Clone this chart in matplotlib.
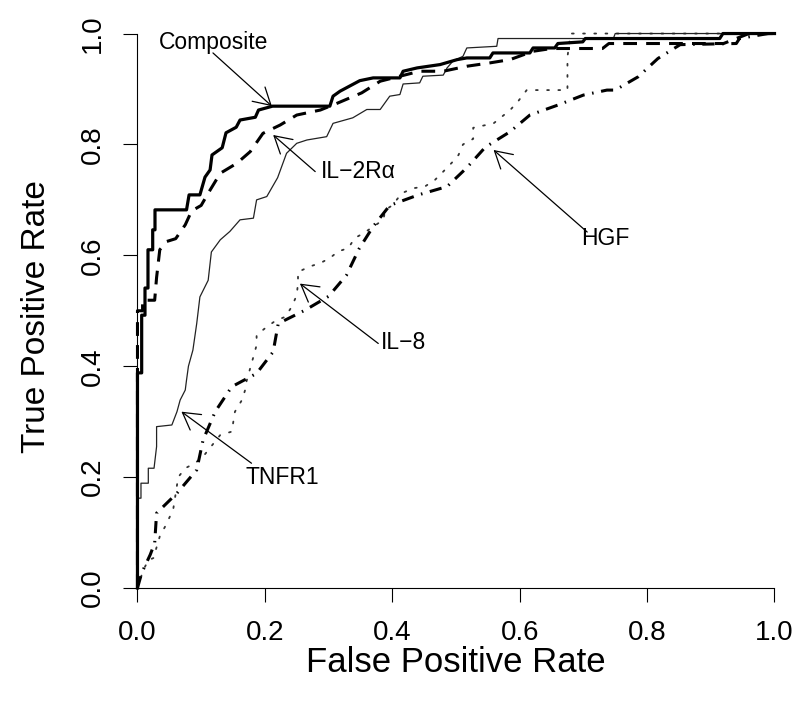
import matplotlib.pyplot as plt

plt.rcParams['font.family'] = ['Liberation Sans', 'DejaVu Sans']

ticks = [0.0, 0.2, 0.4, 0.6, 0.8, 1.0]
tick_labels = ['0.0', '0.2', '0.4', '0.6', '0.8', '1.0']

# (false positive rate, true positive rate)
composite = [(0, 0), (0, 0.388), (0.0066, 0.388), (0.0066, 0.492), (0.0118, 0.492), (0.0118, 0.541),
             (0.0165, 0.541), (0.0165, 0.61), (0.0239, 0.61), (0.0239, 0.646), (0.0275, 0.646),
             (0.0275, 0.682), (0.077, 0.682), (0.081, 0.709), (0.098, 0.709), (0.106, 0.741),
             (0.114, 0.754), (0.117, 0.781), (0.133, 0.794), (0.139, 0.821), (0.155, 0.831),
             (0.161, 0.844), (0.185, 0.849), (0.19, 0.862), (0.212, 0.869), (0.302, 0.869),
             (0.307, 0.887), (0.318, 0.896), (0.349, 0.915), (0.37, 0.92), (0.412, 0.92),
             (0.417, 0.932), (0.439, 0.938), (0.475, 0.944), (0.502, 0.953), (0.517, 0.956),
             (0.553, 0.956), (0.558, 0.965), (0.616, 0.965), (0.621, 0.974), (0.655, 0.974),
             (0.66, 0.982), (0.699, 0.985), (0.703, 0.991), (0.914, 0.991), (0.919, 1.0), (1.0, 1.0)]

il2ra = [(0, 0), (0, 0.50), (0.008, 0.50), (0.008, 0.519), (0.027, 0.519), (0.03, 0.56), (0.035, 0.61),
         (0.046, 0.625), (0.06, 0.63), (0.075, 0.655), (0.085, 0.68), (0.1, 0.69), (0.111, 0.712),
         (0.13, 0.748), (0.156, 0.766), (0.177, 0.787), (0.197, 0.82), (0.224, 0.835), (0.25, 0.853),
         (0.287, 0.862), (0.313, 0.874), (0.352, 0.893), (0.381, 0.914), (0.443, 0.932), (0.48, 0.932),
         (0.517, 0.941), (0.553, 0.947), (0.585, 0.953), (0.621, 0.968), (0.65, 0.973), (0.73, 0.973),
         (0.74, 0.982), (0.92, 0.982), (0.94, 0.991), (0.96, 1.0), (1.0, 1.0)]

tnfr1 = [(0, 0), (0, 0.162), (0.0055, 0.162), (0.0055, 0.189), (0.017, 0.189), (0.017, 0.216),
         (0.026, 0.216), (0.030, 0.255), (0.030, 0.291), (0.054, 0.294), (0.059, 0.309), (0.062, 0.318),
         (0.067, 0.339), (0.075, 0.357), (0.077, 0.375), (0.08, 0.40), (0.087, 0.429), (0.093, 0.477),
         (0.098, 0.525), (0.111, 0.555), (0.116, 0.606), (0.13, 0.628), (0.145, 0.643), (0.161, 0.664),
         (0.182, 0.667), (0.187, 0.70), (0.203, 0.706), (0.22, 0.74), (0.234, 0.784), (0.25, 0.802),
         (0.266, 0.808), (0.297, 0.814), (0.307, 0.838), (0.338, 0.848), (0.36, 0.863), (0.381, 0.863),
         (0.396, 0.887), (0.412, 0.89), (0.417, 0.909), (0.443, 0.911), (0.448, 0.923), (0.48, 0.925),
         (0.486, 0.938), (0.495, 0.95), (0.511, 0.959), (0.517, 0.974), (0.564, 0.977), (0.566, 0.991),
         (0.747, 0.991), (0.75, 1.0), (1.0, 1.0)]

il8 = [(0, 0), (0.009, 0.032), (0.017, 0.05), (0.025, 0.054), (0.035, 0.093), (0.043, 0.11), (0.056, 0.141),
       (0.064, 0.2), (0.075, 0.216), (0.09, 0.225), (0.103, 0.237), (0.13, 0.276), (0.148, 0.282),
       (0.153, 0.318), (0.164, 0.339), (0.169, 0.357), (0.171, 0.372), (0.182, 0.417), (0.187, 0.438),
       (0.187, 0.456), (0.203, 0.471), (0.218, 0.483), (0.232, 0.489), (0.242, 0.507), (0.25, 0.528),
       (0.252, 0.55), (0.252, 0.57), (0.271, 0.58), (0.287, 0.586), (0.302, 0.595), (0.315, 0.607),
       (0.331, 0.613), (0.341, 0.631), (0.355, 0.64), (0.386, 0.664), (0.389, 0.682), (0.40, 0.69),
       (0.415, 0.712), (0.433, 0.721), (0.451, 0.724), (0.467, 0.736), (0.48, 0.751), (0.496, 0.77),
       (0.504, 0.781), (0.511, 0.80), (0.527, 0.81), (0.527, 0.83), (0.543, 0.834), (0.559, 0.838),
       (0.585, 0.862), (0.597, 0.877), (0.611, 0.898), (0.675, 0.898), (0.675, 0.958), (0.68, 1.0),
       (1.0, 1.0)]

hgf = [(0, 0), (0.0066, 0.027), (0.02, 0.06), (0.027, 0.081), (0.03, 0.135), (0.062, 0.171), (0.093, 0.213),
       (0.103, 0.267), (0.122, 0.318), (0.148, 0.363), (0.187, 0.387), (0.213, 0.426), (0.221, 0.477),
       (0.263, 0.501), (0.30, 0.526), (0.328, 0.564), (0.348, 0.612), (0.37, 0.652), (0.396, 0.69),
       (0.441, 0.709), (0.486, 0.724), (0.517, 0.758), (0.546, 0.795), (0.585, 0.823), (0.616, 0.853),
       (0.66, 0.871), (0.70, 0.889), (0.737, 0.898), (0.75, 0.898), (0.786, 0.922), (0.817, 0.955),
       (0.852, 0.98), (0.94, 0.982), (0.945, 0.991), (0.99, 1.0), (1.0, 1.0)]

# label text, text position, arrow start, arrow tip
labels = ['Composite', 'IL\u22122R\u03b1', 'IL\u22128', 'HGF', 'TNFR1']
label_pos = [(0.120, 0.983), (0.346, 0.751), (0.418, 0.442), (0.734, 0.631), (0.228, 0.199)]
arrow_from = [(0.1185, 0.965), (0.279, 0.751), (0.378, 0.441), (0.706, 0.642), (0.179, 0.225)]
arrow_to = [(0.211, 0.869), (0.213, 0.817), (0.255, 0.549), (0.559, 0.79), (0.069, 0.318)]

fig = plt.figure(figsize=(8.03, 7.03), dpi=100)
ax = fig.add_axes([0.1712, 0.1636, 0.7933, 0.7887])

x, y = zip(*il8)
ax.plot(x, y, color='#333333', lw=1.3, linestyle=(0, (1, 5.2)), dash_capstyle='round', clip_on=False)
x, y = zip(*hgf)
ax.plot(x, y, color='black', lw=2.2, linestyle=(0, (4, 2.5, 0.5, 2.5)), clip_on=False)
x, y = zip(*tnfr1)
ax.plot(x, y, color='#222222', lw=0.9, clip_on=False)
x, y = zip(*il2ra)
ax.plot(x, y, color='black', lw=2.2, linestyle=(0, (4.5, 3)), clip_on=False)
x, y = zip(*composite)
ax.plot(x, y, color='black', lw=2.3, clip_on=False)

for i in range(len(labels)):
    ax.annotate('', xy=arrow_to[i], xytext=arrow_from[i],
                arrowprops=dict(arrowstyle='->,head_length=0.4,head_width=0.23', mutation_scale=30,
                                lw=0.9, color='black', shrinkA=0, shrinkB=0))
    ax.text(label_pos[i][0], label_pos[i][1], labels[i], fontsize=16.5, ha='center', va='center')

ax.set_xlim(0, 1)
ax.set_ylim(0, 1)
ax.set_xticks(ticks)
ax.set_xticklabels(tick_labels)
ax.set_yticks(ticks)
ax.set_yticklabels(tick_labels)
for lab in ax.get_yticklabels():
    lab.set_rotation(90)
    lab.set_va('center')
ax.tick_params(direction='out', length=10, width=0.8, labelsize=20, pad=13)
ax.spines['top'].set_visible(False)
ax.spines['right'].set_visible(False)
ax.spines['left'].set_linewidth(0.8)
ax.spines['bottom'].set_linewidth(0.8)

ax.set_xlabel('False Positive Rate', fontsize=25, va='center')
ax.set_ylabel('True Positive Rate', fontsize=24, va='center')
ax.xaxis.set_label_coords(0.5, -0.135)
ax.yaxis.set_label_coords(-0.158, 0.49)

fig.savefig('out.png', dpi=100)
